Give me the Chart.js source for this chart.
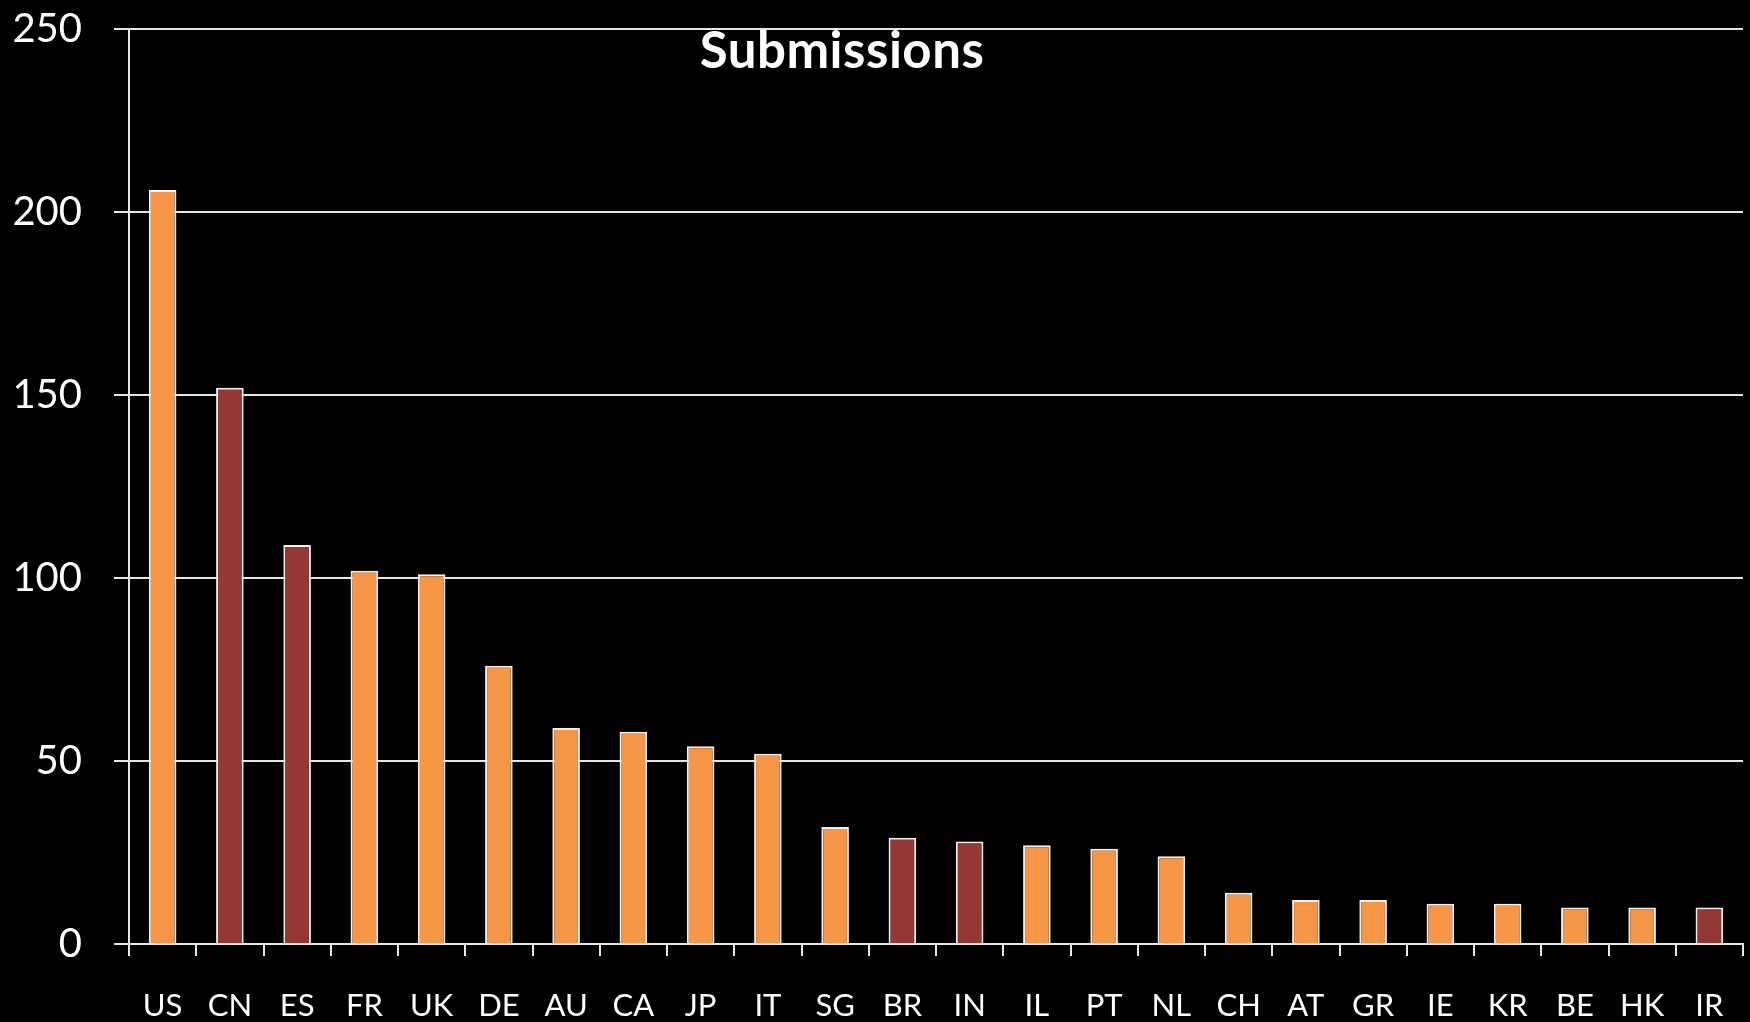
<!DOCTYPE html>
<html>
<head>
<meta charset="utf-8">
<script src="https://cdn.jsdelivr.net/npm/chart.js@4.4.1/dist/chart.umd.min.js"></script>
<style>
    html, body { margin: 0; padding: 0; background: #000; }
    #wrap { position: relative; width: 1750px; height: 1022px; }
    #title {
        position: absolute; left: 0; width: 1684px; top: 18px;
        text-align: center; color: #fff;
        font: bold 51px Lato, sans-serif; letter-spacing: 0.5px;
    }
</style>
</head>
<body>
<div id="wrap">
    <canvas id="chart" width="1750" height="1022"></canvas>
    <div id="title">Submissions</div>
</div>
<script>
    // values
    const countries = ['US', 'CN', 'ES', 'FR', 'UK', 'DE', 'AU', 'CA', 'JP', 'IT', 'SG', 'BR',
        'IN', 'IL', 'PT', 'NL', 'CH', 'AT', 'GR', 'IE', 'KR', 'BE', 'HK', 'IR'];
    const submissions = [206, 152, 109, 102, 101, 76, 59, 58, 54, 52, 32, 29,
        28, 27, 26, 24, 14, 12, 12, 11, 11, 10, 10, 10];
    const highlighted = ['CN', 'ES', 'BR', 'IN', 'IR'];
    const yTicks = [0, 50, 100, 150, 200, 250];

    const ORANGE = '#f79646';
    const DARK_RED = '#953735';

    const ctx = document.getElementById('chart').getContext('2d');
    new Chart(ctx, {
        type: 'bar',
        data: {
            labels: countries,
            datasets: [{
                label: 'Submissions',
                data: submissions,
                backgroundColor: countries.map(c => highlighted.includes(c) ? DARK_RED : ORANGE),
                borderColor: '#f2f2f2',
                borderWidth: 2,
                borderSkipped: 'bottom',
                barPercentage: 0.41,
                categoryPercentage: 1.0
            }]
        },
        options: {
            responsive: false,
            animation: false,
            layout: { padding: { top: 29, right: 7, left: 0, bottom: 0 } },
            plugins: {
                legend: { display: false },
                tooltip: { enabled: false }
            },
            scales: {
                x: {
                    offset: true,
                    grid: {
                        offset: true,
                        drawOnChartArea: false,
                        drawTicks: true,
                        tickLength: 12,
                        color: '#e6e6e6',
                        lineWidth: 2
                    },
                    border: { color: '#e6e6e6', width: 2 },
                    ticks: {
                        color: '#fff',
                        font: { family: 'Lato', size: 31 },
                        padding: 31,
                        maxRotation: 0,
                        autoSkip: false
                    },
                    afterFit: axis => {
                        axis.height = 78;
                        axis.paddingLeft = 0;
                        axis.paddingRight = 0;
                    }
                },
                y: {
                    min: 0,
                    max: 250,
                    afterBuildTicks: axis => { axis.ticks = yTicks.map(v => ({ value: v })); },
                    grid: {
                        color: '#e6e6e6',
                        lineWidth: 2,
                        tickLength: 15
                    },
                    border: { color: '#e6e6e6', width: 2 },
                    ticks: {
                        color: '#fff',
                        font: { family: 'Lato', size: 40 },
                        padding: 32
                    },
                    afterFit: axis => {
                        axis.width = 129;
                        axis.paddingTop = 0;
                        axis.paddingBottom = 0;
                    }
                }
            }
        }
    });
</script>
</body>
</html>
